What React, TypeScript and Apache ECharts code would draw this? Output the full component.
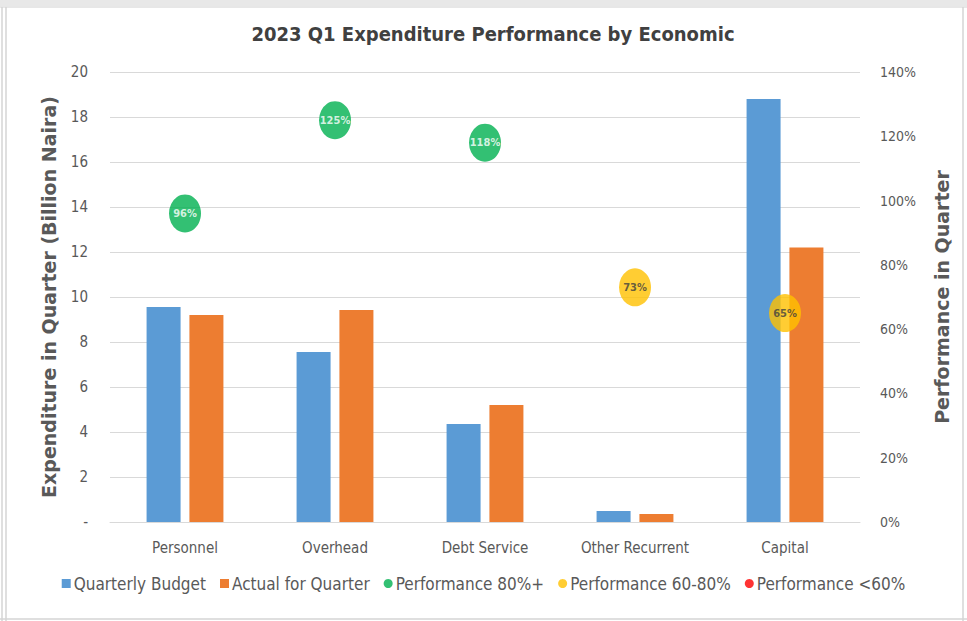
import React, { useEffect, useRef } from "react";
import * as echarts from "echarts";

const categories = ["Personnel", "Overhead", "Debt Service", "Other Recurrent", "Capital"];
const budget = [9.56, 7.56, 4.36, 0.49, 18.8];
const actual = [9.2, 9.42, 5.2, 0.36, 12.2];
const performance = [96, 125, 118, 73, 65];
const leftTicks = { min: 0, max: 20, interval: 2 };
const rightTicks = { min: 0, max: 140, interval: 20 };

const NARROW = "'DejaVu Sans Condensed', 'Liberation Sans Narrow', sans-serif";

export default function App() {
  const ref = useRef<HTMLDivElement>(null);
  useEffect(() => {
    if (!ref.current) return;
    const chart = echarts.init(ref.current, undefined, { renderer: "svg" });
    const green = performance.map((v) => (v >= 80 ? v : "-"));
    const yellow = performance.map((v) => (v >= 60 && v < 80 ? v : "-"));
    const red = performance.map((v) => (v < 60 ? v : "-"));
    const bubbleLabel = (color: string) => ({
      show: true,
      position: "inside",
      formatter: (p: any) => `${p.value}%`,
      color,
      fontSize: 11,
      fontWeight: "bold",
      fontFamily: NARROW,
    });
    chart.setOption({
      animation: false,
      backgroundColor: "#ffffff",
      title: {
        text: "2023 Q1 Expenditure Performance by Economic",
        left: 488,
        textAlign: "center",
        top: 19,
        textStyle: { color: "#404040", fontSize: 20, fontWeight: "bold", fontFamily: NARROW },
      },
      graphic: [
        { type: "rect", shape: { x: 0, y: 0, width: 967, height: 6 }, style: { fill: "#e8e8e8" }, silent: true },
        { type: "line", shape: { x1: 0, y1: 7, x2: 967, y2: 7 }, style: { stroke: "#cfcfcf", lineWidth: 1 } },
        { type: "line", shape: { x1: 2, y1: 7, x2: 2, y2: 621 }, style: { stroke: "#d5d5d5", lineWidth: 1.5 } },
        { type: "line", shape: { x1: 6, y1: 7, x2: 6, y2: 621 }, style: { stroke: "#d5d5d5", lineWidth: 1.5 } },
        { type: "line", shape: { x1: 963, y1: 7, x2: 963, y2: 621 }, style: { stroke: "#d5d5d5", lineWidth: 1.5 } },
        { type: "line", shape: { x1: 0, y1: 619, x2: 967, y2: 619 }, style: { stroke: "#d5d5d5", lineWidth: 1.5 } },
      ],
      legend: {
        left: "center",
        top: 570,
        itemWidth: 9,
        itemHeight: 9,
        itemGap: 14,
        textStyle: { color: "#595959", fontSize: 17, fontFamily: NARROW, padding: [0, 0, 0, -2] },
        data: [
          { name: "Quarterly Budget", icon: "rect" },
          { name: "Actual for Quarter", icon: "rect" },
          { name: "Performance 80%+", icon: "circle" },
          { name: "Performance 60-80%", icon: "circle" },
          { name: "Performance <60%", icon: "circle" },
        ],
      },
      grid: { left: 110, right: 107, top: 72, bottom: 99 },
      xAxis: {
        type: "category",
        data: categories,
        axisLine: { lineStyle: { color: "#d9d9d9" } },
        axisTick: { show: false },
        axisLabel: { color: "#595959", fontSize: 15, margin: 18, fontFamily: NARROW },
      },
      yAxis: [
        {
          type: "value",
          min: leftTicks.min,
          max: leftTicks.max,
          interval: leftTicks.interval,
          name: "Expenditure in Quarter (Billion Naira)",
          nameLocation: "middle",
          nameGap: 52,
          nameTextStyle: { color: "#595959", fontSize: 19, fontWeight: "bold", fontFamily: "'DejaVu Sans', sans-serif" },
          axisLine: { show: false },
          axisTick: { show: false },
          axisLabel: {
            color: "#595959",
            fontSize: 15,
            margin: 22,
            fontFamily: NARROW,
            formatter: (v: number) => (v === 0 ? "-" : String(v)),
          },
          splitLine: { lineStyle: { color: "#d9d9d9" } },
        },
        {
          type: "value",
          min: rightTicks.min,
          max: rightTicks.max,
          interval: rightTicks.interval,
          name: "Performance in Quarter",
          nameLocation: "middle",
          nameGap: 72,
          nameRotate: 90,
          nameTextStyle: { color: "#595959", fontSize: 19, fontWeight: "bold", fontFamily: "'DejaVu Sans', sans-serif" },
          axisLine: { show: false },
          axisTick: { show: false },
          axisLabel: {
            color: "#595959",
            fontSize: 14,
            margin: 20,
            fontFamily: NARROW,
            formatter: (v: number) => `${v}%`,
          },
          splitLine: { show: false },
        },
      ],
      series: [
        {
          name: "Quarterly Budget",
          type: "bar",
          data: budget,
          barWidth: 34,
          barGap: "26%",
          itemStyle: { color: "#5B9BD5" },
        },
        {
          name: "Actual for Quarter",
          type: "bar",
          data: actual,
          barWidth: 34,
          barGap: "26%",
          itemStyle: { color: "#ED7D31" },
        },
        {
          name: "Performance 80%+",
          type: "scatter",
          yAxisIndex: 1,
          data: green,
          symbol: "circle",
          symbolSize: [32, 38],
          itemStyle: { color: "#00B050" },
          label: bubbleLabel("#ffffff"),
          z: 5,
        },
        {
          name: "Performance 60-80%",
          type: "scatter",
          yAxisIndex: 1,
          data: yellow,
          symbol: "circle",
          symbolSize: [32, 38],
          itemStyle: { color: "#FFC000" },
          label: bubbleLabel("#404040"),
          z: 5,
        },
        {
          name: "Performance <60%",
          type: "scatter",
          yAxisIndex: 1,
          data: red,
          symbol: "circle",
          symbolSize: [32, 38],
          itemStyle: { color: "#FF0000" },
          label: bubbleLabel("#ffffff"),
          z: 5,
        },
      ],
    });
    return () => chart.dispose();
  }, []);
  return (
    <div
      ref={ref}
      style={{ position: "absolute", left: 0, top: 0, width: 967, height: 621 }}
    />
  );
}
